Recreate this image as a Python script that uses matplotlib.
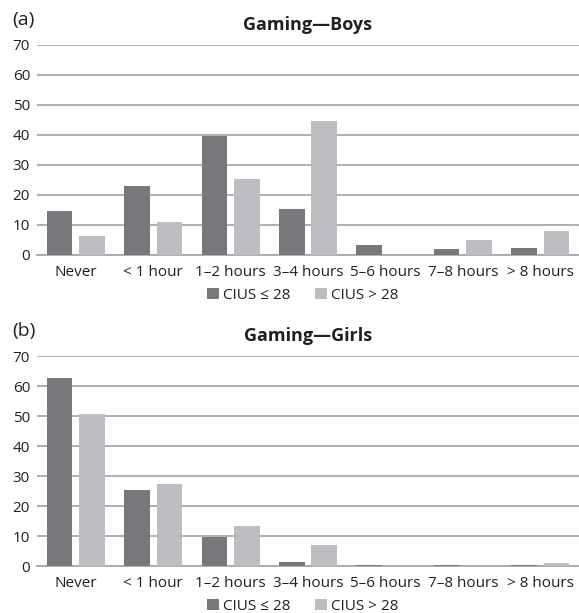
import matplotlib.pyplot as plt
import numpy as np

categories = ['Never', '< 1 hour', '1\u20132 hours', '3\u20134 hours', '5\u20136 hours', '7\u20138 hours', '> 8 hours']
boys_low = [14.6, 23.0, 39.8, 15.4, 3.2, 1.9, 2.4]
boys_high = [6.3, 11.1, 25.3, 44.5, 0.0, 4.9, 8.0]
girls_low = [62.8, 25.5, 9.8, 1.5, 0.2, 0.2, 0.2]
girls_high = [50.8, 27.5, 13.3, 7.0, 0.0, 0.0, 0.9]
series_labels = ['CIUS \u2264 28', 'CIUS > 28']

DARK = '#77787b'
LIGHT = '#bcbdc0'
GRID = '#a9a9a9'

plt.rcParams['font.family'] = ['Open Sans', 'DejaVu Sans']
plt.rcParams['font.size'] = 11
plt.rcParams['text.color'] = '#231f20'

W, H = 579, 613
fig = plt.figure(figsize=(W / 100, H / 100), dpi=100)


def panel(top_px, low, high, title, tag):
    # axes placed in pixel units: plot area 542 x 210 px
    ax = fig.add_axes([37 / W, (H - top_px - 210) / H, 542 / W, 210 / H])
    x = np.arange(len(categories))
    bw = 0.33
    ax.bar(x - 0.21, low, width=bw, color=DARK, label=series_labels[0], zorder=3)
    ax.bar(x + 0.21, high, width=bw, color=LIGHT, label=series_labels[1], zorder=3)
    ax.set_xlim(-0.5, len(categories) - 0.5)
    ax.set_ylim(0, 70)
    ax.set_yticks(range(0, 71, 10))
    ax.set_xticks(x)
    ax.set_xticklabels(categories)
    ax.tick_params(axis='y', length=0, pad=5, labelcolor='#231f20')
    ax.tick_params(axis='x', length=0, pad=7, labelcolor='#231f20')
    ax.grid(axis='y', color=GRID, linewidth=1.3, zorder=0)
    for s in ['top', 'right', 'left']:
        ax.spines[s].set_visible(False)
    ax.spines['bottom'].set_color(GRID)
    ax.spines['bottom'].set_linewidth(1.3)
    fig.text(308 / W, 1 - (top_px - 20) / H, title, ha='center', va='center',
             fontweight='bold', fontsize=13)
    fig.text(12 / W, 1 - (top_px - 25) / H, tag, ha='left', va='center', fontsize=14)
    ax.legend(loc='center', bbox_to_anchor=(303 / W, 1 - (top_px + 250) / H),
              bbox_transform=fig.transFigure, ncol=2, frameon=False,
              handlelength=0.75, handleheight=0.75, handletextpad=0.3,
              columnspacing=1.6, borderpad=0)
    return ax


panel(45, boys_low, boys_high, 'Gaming\u2014Boys', '(a)')
panel(356, girls_low, girls_high, 'Gaming\u2014Girls', '(b)')

fig.savefig('out.png', dpi=100)
